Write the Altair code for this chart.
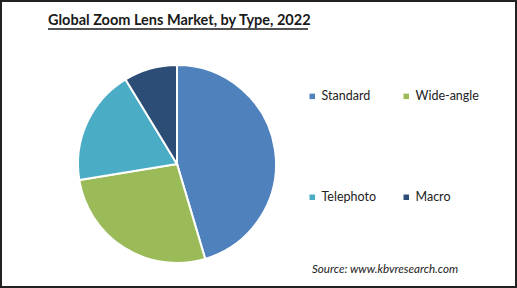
import altair as alt
import pandas as pd

types = ["Standard", "Wide-angle", "Telephoto", "Macro"]
shares = [45.4, 27.0, 18.9, 8.7]
colors = ["#4F81BD", "#9BBB59", "#4BACC6", "#2C4D75"]
legend_order = ["Standard", "Telephoto", "Wide-angle", "Macro"]
title_text = "Global Zoom Lens Market, by Type, 2022"
source_text = "Source:  www.kbvresearch.com"

W, H = 517, 288

df = pd.DataFrame({"type": types, "share": shares, "order": list(range(len(types)))})
color_of = dict(zip(types, colors))

pie = alt.Chart(df).mark_arc(outerRadius=99, stroke="white", strokeWidth=2).encode(
    theta=alt.Theta("share:Q", stack=True),
    order=alt.Order("order:Q"),
    x=alt.value(177),
    y=alt.value(164),
    color=alt.Color(
        "type:N",
        scale=alt.Scale(domain=legend_order, range=[color_of[t] for t in legend_order]),
        legend=alt.Legend(
            title=None,
            orient="none",
            legendX=306,
            legendY=90,
            columns=2,
            rowPadding=88,
            columnPadding=24,
            symbolType="square",
            symbolSize=30,
            symbolStrokeWidth=0,
            labelFontSize=12.5,
            labelFont="Lato",
            labelColor="#222222",
            labelOffset=3,
        ),
    ),
)

title = alt.Chart(pd.DataFrame({"t": [title_text]})).mark_text(
    align="left", baseline="middle", font="Lato", fontSize=14.5, fontWeight="bold", color="#1a1a1a"
).encode(text="t:N", x=alt.value(48), y=alt.value(21))

underline = alt.Chart(pd.DataFrame({"t": [title_text]})).mark_rule(
    color="#1a1a1a", strokeWidth=1.3
).encode(x=alt.value(48), x2=alt.value(308), y=alt.value(29))

source = alt.Chart(pd.DataFrame({"t": [source_text]})).mark_text(
    align="left", baseline="middle", font="Lato", fontSize=11.6, fontStyle="italic", color="#222222"
).encode(text="t:N", x=alt.value(312), y=alt.value(270))

border = alt.Chart(pd.DataFrame({"t": [0]})).mark_rect(
    fill=None, stroke="#222222", strokeWidth=2
).encode(x=alt.value(1), x2=alt.value(W - 1), y=alt.value(1), y2=alt.value(H - 1))

chart = alt.layer(pie, title, underline, source, border).properties(
    width=W, height=H, padding=0, autosize=alt.AutoSizeParams(type="none")
).configure_view(stroke=None).configure(background="white")

chart.save("out.html", embed_options={"renderer": "svg", "actions": False})
